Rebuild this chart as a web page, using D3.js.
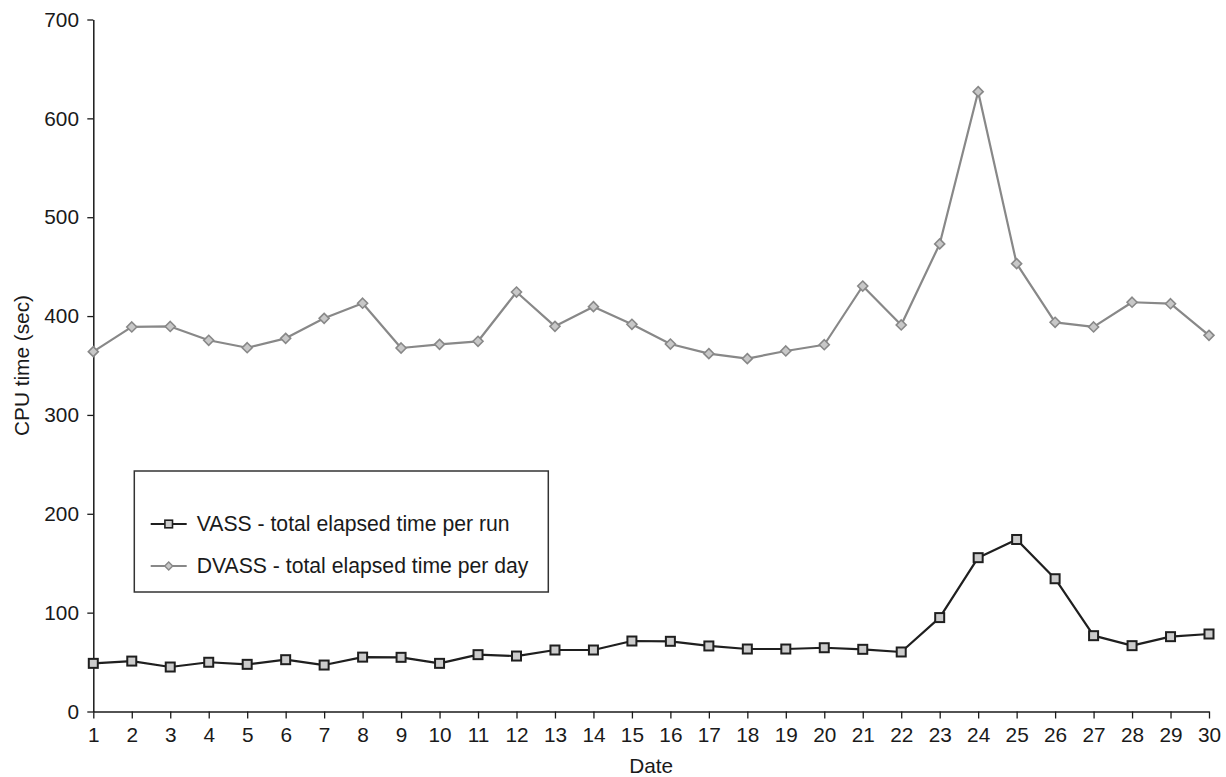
<!DOCTYPE html>
<html>
<head>
<meta charset="utf-8">
<script src="https://cdn.jsdelivr.net/npm/d3@7"></script>
<style>
  html, body { margin: 0; padding: 0; background: #fff; }
  svg { display: block; font-family: "Liberation Sans", Arial, Helvetica, sans-serif; }
</style>
</head>
<body>
<svg id="chart" width="1226" height="777"></svg>
<script>
const dates = d3.range(1, 31);
const vass = [48.7, 51, 45, 49.8, 47.7, 52.4, 47, 55, 54.8, 48.7,
              57.5, 56.1, 62.2, 62.2, 71.3, 71, 66.3, 63.2, 63.2, 64.5,
              62.9, 60.2, 95, 155.6, 174, 134.3, 76.7, 66.6, 75.7, 78.4];
const dvass = [364, 389, 389.5, 375.5, 368, 377.5, 397.7, 413, 367.7, 371.4,
               374.5, 424.3, 389.6, 409.5, 391.7, 371.7, 362, 356.9, 364.7, 371,
               430.4, 391, 473, 627, 453, 393.7, 389, 414, 412.5, 380.5];
const yTicks = [0, 100, 200, 300, 400, 500, 600, 700];
const seriesNames = ["VASS - total elapsed time per run", "DVASS - total elapsed time per day"];
const xTitle = "Date";
const yTitle = "CPU time (sec)";

const svg = d3.select("#chart");
const x = d3.scaleLinear().domain([1, 30]).range([93.3, 1209]);
const y = d3.scaleLinear().domain([0, 700]).range([711.5, 19.5]);

const axisColor = "#1a1a1a";

// X axis
const gx = svg.append("g").attr("transform", `translate(0,${y(0)})`)
  .call(d3.axisBottom(x).tickValues(dates).tickFormat(d3.format("d")).tickSize(7).tickPadding(9).tickSizeOuter(0));
gx.select(".domain").attr("stroke", axisColor).attr("stroke-width", 1.5);
gx.selectAll(".tick line").attr("stroke", axisColor).attr("stroke-width", 1.3);
gx.selectAll(".tick text").attr("fill", "#1a1a1a").style("font-size", "20.8px");

// Y axis
const gy = svg.append("g").attr("transform", `translate(${x(1)},0)`)
  .call(d3.axisLeft(y).tickValues(yTicks).tickFormat(d3.format("d")).tickSize(6).tickPadding(8.3).tickSizeOuter(0));
gy.select(".domain").attr("stroke", axisColor).attr("stroke-width", 1.5);
gy.selectAll(".tick line").attr("stroke", axisColor).attr("stroke-width", 1.3);
gy.selectAll(".tick text").attr("fill", "#1a1a1a").style("font-size", "20.8px");

// Axis titles
svg.append("text").attr("x", (x(1) + x(30)) / 2).attr("y", 773)
  .attr("text-anchor", "middle").attr("fill", "#1a1a1a").style("font-size", "20.8px").text(xTitle);
svg.append("text").attr("transform", `translate(29,${(y(0) + y(700)) / 2}) rotate(-90)`)
  .attr("text-anchor", "middle").attr("fill", "#1a1a1a").style("font-size", "20.8px").text(yTitle);

// Lines
const line = (vals) => d3.line().x((d, i) => x(dates[i])).y(d => y(d))(vals);

svg.append("path").attr("d", line(dvass)).attr("fill", "none")
  .attr("stroke", "#888").attr("stroke-width", 2.2).attr("stroke-linejoin", "round");
svg.append("path").attr("d", line(vass)).attr("fill", "none")
  .attr("stroke", "#1f1f1f").attr("stroke-width", 2.2).attr("stroke-linejoin", "round");

// Markers
const diamond = (cx, cy, r) => `M${cx},${cy - r}L${cx + r},${cy}L${cx},${cy + r}L${cx - r},${cy}Z`;
svg.append("g").selectAll("path").data(dvass).join("path")
  .attr("d", (d, i) => diamond(x(dates[i]), y(d), 5))
  .attr("fill", "#c8c8c8").attr("stroke", "#888").attr("stroke-width", 1.6);

svg.append("g").selectAll("rect").data(vass).join("rect")
  .attr("x", (d, i) => x(dates[i]) - 4.5).attr("y", d => y(d) - 4.5)
  .attr("width", 9).attr("height", 9)
  .attr("fill", "#cccccc").attr("stroke", "#1f1f1f").attr("stroke-width", 2);

// Legend
const lg = svg.append("g");
lg.append("rect").attr("x", 134.3).attr("y", 471).attr("width", 414).attr("height", 121)
  .attr("fill", "#fff").attr("stroke", "#333").attr("stroke-width", 1.5);
const rows = [524, 566];
// row 1: VASS
lg.append("line").attr("x1", 150.7).attr("x2", 186.7).attr("y1", rows[0]).attr("y2", rows[0])
  .attr("stroke", "#1f1f1f").attr("stroke-width", 2.2);
lg.append("rect").attr("x", 168.7 - 3.8).attr("y", rows[0] - 3.8).attr("width", 7.6).attr("height", 7.6)
  .attr("fill", "#cccccc").attr("stroke", "#1f1f1f").attr("stroke-width", 1.6);
lg.append("text").attr("x", 196.7).attr("y", rows[0]).attr("dy", "0.35em")
  .attr("fill", "#1a1a1a").style("font-size", "21.2px").text(seriesNames[0]);
// row 2: DVASS
lg.append("line").attr("x1", 150.7).attr("x2", 186.7).attr("y1", rows[1]).attr("y2", rows[1])
  .attr("stroke", "#888").attr("stroke-width", 2.2);
lg.append("path").attr("d", diamond(168.7, rows[1], 4))
  .attr("fill", "#c8c8c8").attr("stroke", "#888").attr("stroke-width", 1.4);
lg.append("text").attr("x", 196.7).attr("y", rows[1]).attr("dy", "0.35em")
  .attr("fill", "#1a1a1a").style("font-size", "21.2px").text(seriesNames[1]);
</script>
</body>
</html>
